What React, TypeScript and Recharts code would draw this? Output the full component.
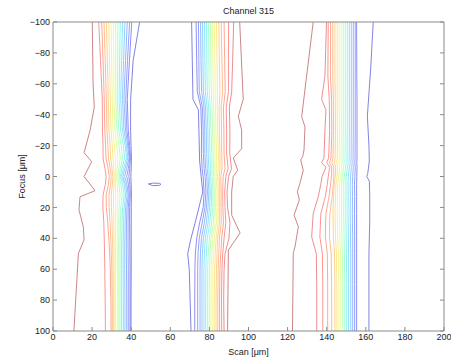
import { LineChart, Line, XAxis, YAxis, Label } from 'recharts';

const xTicks = [0, 20, 40, 60, 80, 100, 120, 140, 160, 180, 200];
const yTicks = [-100, -80, -60, -40, -20, 0, 20, 40, 60, 80, 100];

// contour levels, low (dark red) -> high (blue), jet-like but washed out
const levelColors = [
  '#c07070', '#ea7a7a', '#ff8080', '#ff9a80', '#ffb280', '#ffc980',
  '#ffe080', '#f4f480', '#d8ff96', '#b8ffb0', '#9affcc', '#80f2e8',
  '#80dcff', '#80c4ff', '#80aaff', '#8090ff', '#7a7af4', '#6c6cdc',
];

// ---- left band (scan ~10..45 µm) ----
const band1Focus = [-100, -75, -50, -30, -20, -12, -5, 0, 5, 12, 20, 30, 45, 60, 80, 100];
const band1Scan = [
  [23.4, 24.3, 25.2, 25.3, 25.6, 25.6, 26.6, 27.2, 26.8, 25.6, 25.5, 26.0, 26.3, 26.5, 26.7, 26.8],
  [24.9, 25.6, 26.2, 26.5, 26.9, 27.1, 28.2, 28.8, 28.4, 27.2, 27.3, 28.0, 28.8, 29.3, 29.6, 29.7],
  [26.1, 26.7, 27.3, 27.6, 28.1, 28.4, 29.3, 29.8, 29.5, 28.6, 28.7, 29.2, 29.7, 30.1, 30.3, 30.3],
  [27.3, 27.8, 28.3, 28.6, 29.2, 29.5, 30.2, 30.6, 30.4, 29.8, 29.9, 30.2, 30.5, 30.7, 30.8, 30.8],
  [28.5, 28.9, 29.3, 29.7, 30.3, 30.7, 31.1, 31.3, 31.2, 30.9, 31.0, 31.1, 31.2, 31.3, 31.3, 31.3],
  [29.7, 30.0, 30.3, 30.7, 31.4, 31.9, 32.0, 31.9, 32.0, 32.0, 32.0, 32.0, 32.0, 32.0, 32.0, 32.0],
  [30.8, 31.1, 31.2, 31.7, 32.6, 33.2, 32.8, 32.5, 32.9, 33.1, 32.9, 32.9, 32.9, 32.9, 32.9, 32.9],
  [32.1, 32.1, 32.1, 32.7, 33.8, 34.4, 33.6, 33.1, 33.8, 34.3, 33.8, 33.7, 33.6, 33.6, 33.6, 33.6],
  [33.2, 33.1, 32.9, 33.6, 34.9, 35.6, 34.4, 33.8, 34.7, 35.4, 34.7, 34.5, 34.3, 34.3, 34.3, 34.3],
  [34.4, 34.1, 33.8, 34.6, 36.0, 36.7, 35.2, 34.4, 35.6, 36.4, 35.6, 35.3, 35.1, 35.1, 35.1, 35.1],
  [35.6, 35.1, 34.6, 35.5, 36.9, 37.6, 36.0, 35.0, 36.4, 37.2, 36.4, 36.1, 35.9, 35.9, 36.0, 36.0],
  [36.8, 36.1, 35.5, 36.3, 37.6, 38.3, 36.8, 35.7, 37.1, 37.9, 37.1, 36.9, 36.7, 36.7, 36.8, 36.8],
  [38.0, 37.1, 36.3, 37.1, 38.2, 38.9, 37.6, 36.6, 37.8, 38.5, 37.8, 37.6, 37.5, 37.6, 37.7, 37.7],
  [39.2, 38.1, 37.2, 37.8, 38.7, 39.3, 38.5, 37.7, 38.6, 39.0, 38.5, 38.4, 38.4, 38.5, 38.5, 38.5],
  [40.3, 39.1, 38.0, 38.5, 39.2, 39.6, 39.2, 38.8, 39.3, 39.5, 39.2, 39.2, 39.3, 39.4, 39.4, 39.4],
  [44.3, 41.0, 39.7, 39.7, 39.9, 40.1, 40.0, 39.8, 40.0, 40.1, 40.0, 40.0, 40.0, 40.0, 39.9, 39.9],
];
const band1Levels = [2, 3, 4, 5, 6, 7, 8, 9, 10, 11, 12, 13, 14, 15, 16, 17];
// [focus, scan]
const band1Outer = [
  [-100, 20.1], [-60, 20.5], [-45, 21.1], [-30, 19.0], [-15.4, 15.9], [-9.6, 19.8], [0, 15.9],
  [9.2, 21.5], [13.1, 13.8], [21.7, 13.3], [32.5, 15.5], [41, 15.9], [49.7, 13.0], [100, 10.7],
];
const islandLoop = [
  [4.8, 48.8], [4.3, 51.0], [4.4, 54.5], [5.0, 55.2], [5.7, 54.5], [5.9, 51.0], [4.8, 48.8],
];

// ---- middle band (scan ~68..98 µm) ----
const band2Focus = [-100, -75, -55, -45, -30, -15, -5, 0, 10, 20, 30, 40, 50, 60, 80, 100];
const band2Scan = [
  [73.2, 73.5, 73.8, 75.6, 76.0, 75.9, 76.3, 76.8, 77.3, 76.8, 75.0, 73.5, 72.8, 72.6, 72.5, 72.5],
  [74.4, 74.6, 74.8, 76.4, 76.8, 76.9, 77.3, 77.8, 78.2, 77.7, 76.3, 74.8, 74.2, 74.0, 74.0, 74.0],
  [75.5, 75.7, 76.0, 77.2, 77.6, 77.7, 78.1, 78.6, 79.0, 78.5, 77.4, 75.9, 75.4, 75.2, 75.2, 75.2],
  [76.5, 76.7, 76.9, 78.0, 78.4, 78.6, 78.9, 79.3, 79.7, 79.3, 78.4, 76.9, 76.4, 76.2, 76.2, 76.2],
  [77.5, 77.7, 77.9, 78.8, 79.2, 79.4, 79.7, 80.0, 80.4, 80.1, 79.3, 77.9, 77.4, 77.2, 77.2, 77.2],
  [78.5, 78.7, 78.9, 79.6, 80.0, 80.3, 80.5, 80.7, 81.1, 80.9, 80.2, 78.9, 78.4, 78.2, 78.1, 78.1],
  [79.5, 79.7, 79.9, 80.4, 80.8, 81.2, 81.3, 81.4, 81.8, 81.7, 81.1, 80.0, 79.4, 79.1, 79.0, 79.0],
  [80.5, 80.7, 81.0, 81.3, 81.6, 82.0, 82.0, 82.1, 82.5, 82.4, 82.0, 80.8, 80.3, 80.0, 79.9, 79.9],
  [81.5, 81.8, 82.0, 82.2, 82.4, 82.9, 82.8, 82.8, 83.2, 83.1, 82.8, 81.7, 81.2, 80.9, 80.8, 80.8],
  [82.5, 82.8, 83.0, 83.1, 83.3, 83.7, 83.6, 83.5, 83.9, 83.8, 83.6, 82.5, 82.1, 81.8, 81.7, 81.7],
  [83.6, 83.9, 84.1, 84.0, 84.2, 84.6, 84.5, 84.2, 84.6, 84.5, 84.4, 83.4, 83.0, 82.7, 82.5, 82.5],
  [84.8, 85.1, 85.4, 85.0, 85.1, 85.4, 85.4, 85.0, 85.3, 85.2, 85.2, 84.2, 83.9, 83.6, 83.4, 83.4],
  [86.0, 86.4, 86.8, 86.0, 86.2, 86.3, 86.5, 85.8, 86.0, 86.0, 86.1, 85.1, 84.8, 84.5, 84.3, 84.3],
  [87.5, 87.8, 88.1, 87.2, 87.4, 87.5, 88.0, 87.0, 86.8, 86.9, 87.2, 86.3, 85.8, 85.4, 85.2, 85.2],
  [89.8, 89.8, 89.8, 88.6, 88.8, 88.8, 89.6, 88.4, 87.8, 88.0, 88.4, 87.5, 86.8, 86.4, 86.2, 86.3],
  [92.4, 91.9, 91.4, 90.2, 90.5, 90.4, 91.3, 89.8, 89.0, 89.3, 90.5, 90.0, 88.0, 87.5, 87.3, 87.5],
];
const band2Levels = [16, 15, 14, 13, 12, 11, 10, 9, 8, 7, 6, 5, 4, 3, 2, 1];
const band2Left = [
  [-100, 70.9], [-50, 71.6], [-43, 74.4], [-10, 75.0], [10, 76.6], [26, 73.5], [41, 70.4],
  [50, 68.9], [60, 69.7], [100, 70.6],
];
const band2Right = [
  [-100, 95.5], [-50, 97.3], [-39, 94.8], [-30, 96.5], [-18, 96.5], [-12, 92.2], [-4, 94.5],
  [0, 92.2], [10, 91.4], [25, 91.4], [36.6, 95.7], [47.6, 89.7], [100, 89.3],
];

// ---- right band (scan ~122..164 µm) ----
const band3Focus = [-100, -65, -50, -43, -30, -12, -9, -6, 0, 5, 13, 24, 39, 50, 70, 100];
const band3Scan = [
  [139.9, 139.1, 137.4, 139.6, 139.1, 138.6, 137.4, 139.6, 137.6, 137.0, 135.7, 133.1, 132.3, 134.7, 134.9, 134.9],
  [140.8, 140.6, 141.3, 141.4, 141.5, 141.0, 140.0, 141.5, 140.8, 140.3, 139.3, 137.0, 136.5, 137.8, 138.0, 138.0],
  [142.0, 141.9, 142.5, 142.5, 142.6, 142.2, 141.4, 142.6, 142.4, 142.0, 141.2, 139.6, 139.3, 140.3, 140.5, 140.5],
  [143.1, 143.1, 143.4, 143.4, 143.5, 143.2, 142.7, 143.6, 143.6, 143.4, 142.8, 141.6, 141.4, 142.3, 142.5, 142.6],
  [144.2, 144.2, 144.4, 144.4, 144.5, 144.3, 144.0, 144.6, 144.4, 143.8, 143.5, 143.2, 143.4, 144.0, 144.2, 144.2],
  [145.4, 145.4, 145.4, 145.4, 145.5, 145.4, 145.1, 145.6, 145.3, 144.7, 144.5, 144.3, 144.5, 145.0, 145.2, 145.2],
  [146.4, 146.4, 146.4, 146.4, 146.5, 146.4, 146.2, 146.6, 146.2, 145.6, 145.5, 145.4, 145.6, 146.0, 146.2, 146.2],
  [147.5, 147.5, 147.5, 147.5, 147.5, 147.4, 147.3, 147.6, 147.1, 146.6, 146.6, 146.5, 146.7, 147.0, 147.2, 147.2],
  [148.5, 148.5, 148.5, 148.5, 148.5, 148.4, 148.3, 148.6, 148.0, 147.6, 147.7, 147.6, 147.8, 148.0, 148.2, 148.2],
  [149.5, 149.5, 149.5, 149.5, 149.5, 149.4, 149.3, 149.6, 149.0, 148.7, 148.8, 148.7, 148.9, 149.1, 149.2, 149.2],
  [150.5, 150.5, 150.5, 150.5, 150.5, 150.4, 150.3, 150.6, 150.0, 149.8, 149.9, 149.8, 150.0, 150.1, 150.2, 150.2],
  [151.6, 151.6, 151.6, 151.6, 151.6, 151.5, 151.4, 151.6, 151.1, 150.9, 151.0, 150.9, 151.1, 151.2, 151.2, 151.2],
  [152.6, 152.6, 152.6, 152.6, 152.6, 152.5, 152.4, 152.6, 152.2, 152.0, 152.1, 152.0, 152.2, 152.3, 152.3, 152.3],
  [153.6, 153.6, 153.6, 153.6, 153.6, 153.5, 153.4, 153.6, 153.3, 153.1, 153.2, 153.1, 153.3, 153.3, 153.3, 153.3],
  [154.6, 154.6, 154.6, 154.6, 154.6, 154.5, 154.4, 154.6, 154.4, 154.2, 154.3, 154.2, 154.3, 154.3, 154.3, 154.3],
  [155.3, 155.4, 155.5, 155.5, 155.5, 155.5, 155.4, 155.5, 155.4, 155.3, 155.3, 155.3, 155.3, 155.3, 155.3, 155.3],
];
const band3Levels = [1, 2, 3, 4, 5, 6, 7, 8, 9, 10, 11, 12, 13, 14, 15, 16];
const band3Left = [
  [-100, 133.1], [-38.7, 127.2], [-32, 128.9], [-17.2, 128.4], [-12.8, 127.7], [-10.7, 126.7],
  [-4, 128.0], [4.5, 126.3], [9.8, 125.0], [15.2, 126.0], [25, 123.3], [32.5, 125.5],
  [45.4, 123.8], [49.7, 122.9], [100, 122.5],
];
const band3Right = [
  [-100, 163.8], [-70, 162.5], [-39, 160.8], [-20, 161.6], [-10, 161.8], [-2, 161.0], [0, 160.5],
  [3, 161.8], [11, 162.0], [30, 162.0], [50, 161.6], [100, 161.6],
];

type Pt = { x: number; y: number };
type Contour = { id: string; level: number; pts: Pt[] };

const fromPairs = (pairs: number[][]): Pt[] => pairs.map(([y, x]) => ({ x, y }));
const fromRows = (focus: number[], scan: number[]): Pt[] => scan.map((x, i) => ({ x, y: focus[i] }));

const contours: Contour[] = [
  { id: 'b1-out', level: 0, pts: fromPairs(band1Outer) },
  ...band1Scan.map((row, i) => ({ id: `b1-${i}`, level: band1Levels[i], pts: fromRows(band1Focus, row) })),
  { id: 'island', level: 17, pts: fromPairs(islandLoop) },
  { id: 'b2-left', level: 17, pts: fromPairs(band2Left) },
  ...band2Scan.map((row, i) => ({ id: `b2-${i}`, level: band2Levels[i], pts: fromRows(band2Focus, row) })),
  { id: 'b2-right', level: 0, pts: fromPairs(band2Right) },
  { id: 'b3-left', level: 0, pts: fromPairs(band3Left) },
  ...band3Scan.map((row, i) => ({ id: `b3-${i}`, level: band3Levels[i], pts: fromRows(band3Focus, row) })),
  { id: 'b3-right', level: 17, pts: fromPairs(band3Right) },
];

const axisColor = '#8a8a8a';
const textColor = '#222';
const fontSize = 9;

const fmtY = (v: number) => (v < 0 ? `\u2212${Math.abs(v)}` : `${v}`);
const blank = () => '';

const FocusLabel = ({ viewBox }: any) => {
  const cx = viewBox.x + 22;
  const cy = viewBox.y + viewBox.height / 2;
  return (
    <text
      x={cx}
      y={cy}
      transform={`rotate(-90 ${cx} ${cy})`}
      textAnchor="middle"
      dominantBaseline="central"
      fontSize={fontSize}
      fill={textColor}
    >
      Focus [μm]
    </text>
  );
};

export default function App() {
  return (
    <div
      style={{
        position: 'absolute',
        left: 0,
        top: 0,
        width: 451,
        height: 358,
        background: '#fff',
        fontFamily: '"Liberation Sans", Arial, Helvetica, sans-serif',
      }}
    >
      <div
        style={{
          position: 'absolute',
          left: 53,
          width: 391,
          top: 5,
          textAlign: 'center',
          fontSize,
          lineHeight: '12px',
          color: textColor,
        }}
      >
        Channel 315
      </div>
      <LineChart width={451} height={358} margin={{ top: 21, right: 6, bottom: 0, left: 0 }}>
        <XAxis
          type="number"
          dataKey="x"
          domain={[0, 200]}
          ticks={xTicks}
          interval={0}
          allowDataOverflow
          height={27}
          tickSize={-4}
          tickMargin={7}
          stroke={axisColor}
          tick={{ fontSize, fill: textColor }}
        >
          <Label value="Scan [μm]" position="insideBottom" offset={3} fontSize={fontSize} fill={textColor} />
        </XAxis>
        <XAxis
          xAxisId="top"
          orientation="top"
          type="number"
          domain={[0, 200]}
          ticks={xTicks}
          interval={0}
          allowDataOverflow
          height={1}
          tickSize={-4}
          stroke={axisColor}
          tickFormatter={blank}
        />
        <YAxis
          type="number"
          domain={[-100, 100]}
          reversed
          ticks={yTicks}
          interval={0}
          allowDataOverflow
          width={53}
          tickSize={-4}
          tickMargin={7}
          stroke={axisColor}
          tick={{ fontSize, fill: textColor }}
          tickFormatter={fmtY}
        >
          <Label content={FocusLabel} />
        </YAxis>
        <YAxis
          yAxisId="right"
          orientation="right"
          type="number"
          domain={[-100, 100]}
          reversed
          ticks={yTicks}
          interval={0}
          allowDataOverflow
          width={1}
          tickSize={-4}
          stroke={axisColor}
          tickFormatter={blank}
        />
        {contours.map((c) => (
          <Line
            key={c.id}
            data={c.pts}
            dataKey="y"
            stroke={levelColors[c.level]}
            strokeWidth={0.85}
            dot={false}
            activeDot={false}
            isAnimationActive={false}
          />
        ))}
      </LineChart>
    </div>
  );
}
